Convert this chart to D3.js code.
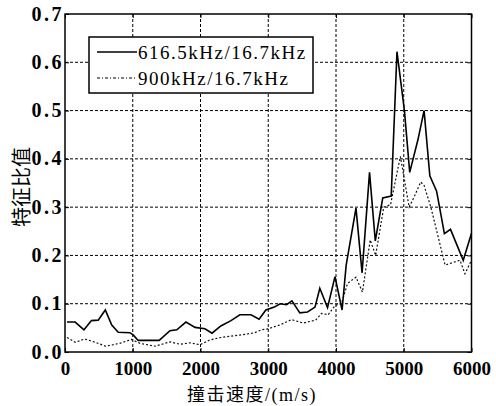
<!DOCTYPE html>
<html>
<head>
<meta charset="utf-8">
<script src="https://cdn.jsdelivr.net/npm/d3@7"></script>
<style>
  body { margin: 0; background: #fff; }
  svg { display: block; }
</style>
</head>
<body>
<div id="chart"></div>
<script>
// 616.5kHz/16.7kHz
var speedA = [30,150,280,390,490,595,690,786,958,1010,1080,1390,1549,1650,1785,1920,2065,2170,2300,2450,2581,2745,2865,2965,3090,3175,3270,3350,3466,3580,3690,3761,3875,3985,4090,4150,4295,4385,4495,4580,4690,4815,4900,5010,5088,5210,5300,5385,5485,5600,5690,5878,6000];
var ratioA = [0.062,0.062,0.046,0.065,0.066,0.087,0.056,0.041,0.040,0.035,0.024,0.024,0.044,0.046,0.062,0.051,0.048,0.039,0.054,0.065,0.077,0.077,0.068,0.087,0.093,0.100,0.098,0.106,0.081,0.083,0.093,0.132,0.092,0.156,0.087,0.180,0.298,0.164,0.372,0.230,0.319,0.323,0.622,0.500,0.372,0.440,0.500,0.365,0.333,0.245,0.254,0.190,0.246];

// 900kHz/16.7kHz
var speedB = [30,150,290,450,600,811,983,1106,1330,1549,1700,1844,1991,2139,2300,2450,2630,2800,2901,3000,3171,3343,3515,3700,3786,3884,3990,4080,4170,4295,4390,4505,4585,4705,4805,4950,5080,5150,5250,5300,5400,5610,5830,5903,6000];
var ratioB = [0.030,0.020,0.027,0.020,0.012,0.018,0.026,0.018,0.012,0.021,0.016,0.019,0.015,0.025,0.030,0.033,0.036,0.040,0.046,0.048,0.056,0.067,0.060,0.066,0.080,0.077,0.097,0.100,0.142,0.155,0.124,0.232,0.200,0.300,0.305,0.405,0.300,0.320,0.352,0.345,0.300,0.180,0.190,0.162,0.190];

var xTicks = [0,1000,2000,3000,4000,5000,6000];
var yTicks = [0,0.1,0.2,0.3,0.4,0.5,0.6,0.7];
var legendNames = ["616.5kHz/16.7kHz", "900kHz/16.7kHz"];

(function() {
  var width = 496,
      height = 406;
  var pLeft = 65, pRight = 471.5, pTop = 14, pBottom = 352;

  var svg = d3.select("#chart")
    .append("svg")
    .attr("width", width)
    .attr("height", height);

  var x = d3.scaleLinear().domain([0, 6000]).range([pLeft, pRight]);
  var y = d3.scaleLinear().domain([0, 0.7]).range([pBottom, pTop]);

  // grid
  svg.append("g")
    .selectAll("line")
    .data(xTicks.slice(1, -1))
    .enter().append("line")
    .attr("x1", function(d) { return x(d) })
    .attr("x2", function(d) { return x(d) })
    .attr("y1", pTop)
    .attr("y2", pBottom)
    .attr("stroke", "#000")
    .attr("stroke-width", 1)
    .attr("stroke-dasharray", "3,2");

  svg.append("g")
    .selectAll("line")
    .data(yTicks.slice(1, -1))
    .enter().append("line")
    .attr("x1", pLeft)
    .attr("x2", pRight)
    .attr("y1", function(d) { return y(d) })
    .attr("y2", function(d) { return y(d) })
    .attr("stroke", "#000")
    .attr("stroke-width", 1)
    .attr("stroke-dasharray", "3,2");

  // axes
  svg.append("g")
    .attr("transform", "translate(0," + pBottom + ")")
    .call(d3.axisBottom(x).tickValues(xTicks).tickSize(-4).tickPadding(10).tickFormat(d3.format("d")));
  var yAxis = svg.append("g")
    .attr("transform", "translate(" + pLeft + ",0)")
    .call(d3.axisLeft(y).tickValues(yTicks).tickSize(-4).tickPadding(1).tickFormat(d3.format(".1f")));
  svg.append("g")
    .attr("transform", "translate(0," + pTop + ")")
    .call(d3.axisTop(x).tickValues(xTicks).tickSize(-4).tickFormat(""));
  svg.append("g")
    .attr("transform", "translate(" + pRight + ",0)")
    .call(d3.axisRight(y).tickValues(yTicks).tickSize(-4).tickFormat(""));

  svg.selectAll(".domain").remove();
  svg.selectAll(".tick line").attr("stroke", "#000").attr("stroke-width", 1);
  svg.selectAll(".tick text")
    .attr("fill", "#000")
    .style("font-family", "'Liberation Serif', 'Times New Roman', serif")
    .style("font-weight", "bold")
    .style("font-size", "19px");
  yAxis.selectAll(".tick text")
    .style("font-size", "20px")
    .style("letter-spacing", "2.5px")
    .attr("dy", "0.3em");

  // frame
  svg.append("rect")
    .attr("x", pLeft)
    .attr("y", pTop)
    .attr("width", pRight - pLeft)
    .attr("height", pBottom - pTop)
    .attr("fill", "none")
    .attr("stroke", "#000")
    .attr("stroke-width", 1.5);

  var line = d3.line()
    .x(function(d) { return x(d[0]) })
    .y(function(d) { return y(d[1]) });

  svg.append("path")
    .datum(d3.zip(speedB, ratioB))
    .attr("d", line)
    .attr("fill", "none")
    .attr("stroke", "#111")
    .attr("stroke-width", 1.2)
    .attr("stroke-dasharray", "2,2");

  svg.append("path")
    .datum(d3.zip(speedA, ratioA))
    .attr("d", line)
    .attr("fill", "none")
    .attr("stroke", "#000")
    .attr("stroke-width", 1.6);

  // legend
  var legend = svg.append("g");
  legend.append("rect")
    .attr("x", 89)
    .attr("y", 37)
    .attr("width", 224)
    .attr("height", 56)
    .attr("fill", "#fff")
    .attr("stroke", "#000")
    .attr("stroke-width", 1.5);

  var rows = legend.selectAll(".row")
    .data(legendNames)
    .enter().append("g")
    .attr("class", "row")
    .attr("transform", function(d, i) { return "translate(0," + (52 + i * 26) + ")" });

  rows.append("line")
    .attr("x1", 97)
    .attr("x2", 137)
    .attr("stroke", "#000")
    .attr("stroke-width", function(d, i) { return i == 0 ? 1.5 : 1.2 })
    .attr("stroke-dasharray", function(d, i) { return i == 0 ? null : "3,2,1,2" });

  rows.append("text")
    .attr("x", 138)
    .attr("dy", "0.35em")
    .text(function(d) { return d })
    .style("font-family", "'Liberation Serif', 'Times New Roman', serif")
    .style("font-size", "19px")
    .style("letter-spacing", "1.5px");

  // axis titles
  svg.append("text")
    .attr("x", 252)
    .attr("y", 401)
    .attr("text-anchor", "middle")
    .text("撞击速度/(m/s)")
    .style("font-family", "'Liberation Serif', 'Noto Sans CJK SC', serif")
    .style("font-size", "18px")
    .style("letter-spacing", "1.5px");

  svg.append("text")
    .attr("transform", "translate(29,187) rotate(-90)")
    .attr("text-anchor", "middle")
    .text("特征比值")
    .style("font-family", "'Noto Sans CJK SC', sans-serif")
    .style("font-size", "20px");
})();
</script>
</body>
</html>
